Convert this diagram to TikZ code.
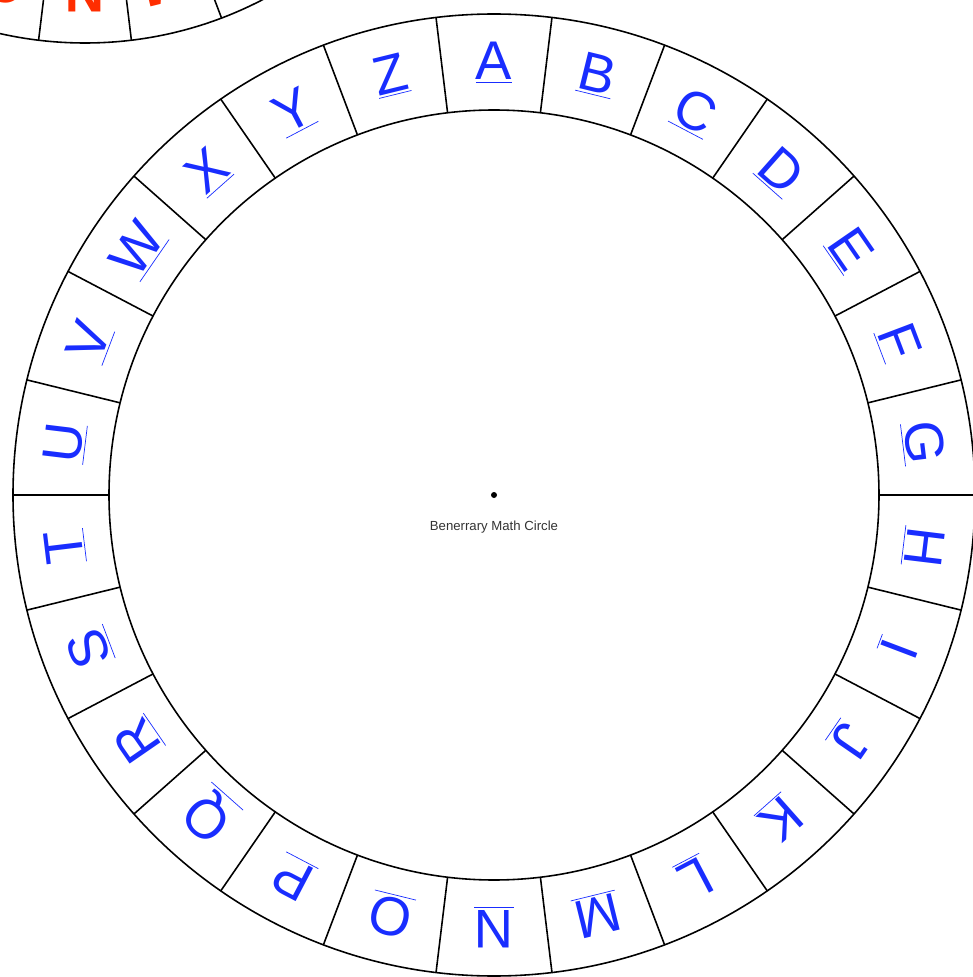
\documentclass[tikz,border=0pt]{standalone}
\usepackage{fontspec}
\setsansfont{Liberation Sans}
\usepackage{tikz}
\usetikzlibrary{calc}
\usepackage{xcolor}
\definecolor{letrazul}{RGB}{25,45,255}
\definecolor{letraverm}{RGB}{255,45,0}
\tikzset{
    anel/.style={draw=black, line width=0.9pt},
    letra/.style={font=\sffamily\fontsize{31}{31}\selectfont, text=letrazul, anchor=base, inner sep=0pt},
    letraverm/.style={letra, font=\sffamily\bfseries\fontsize{31}{31}\selectfont, text=letraverm},
    rotulo/.style={font=\sffamily\fontsize{7.5}{8}\selectfont, text=black!80}
}

\begin{document}
\begin{tikzpicture}[x=0.02cm, y=0.02cm]
    \useasboundingbox (-494,-482) rectangle (479,495);
    \clip (-494,-482) rectangle (479,495);
    % Disco de cima (vermelho, cortado)
    \begin{scope}[shift={(-409,837)}]
        \draw[anel] (0,0) circle (385);
        \draw[anel] (0,0) circle (289);
        \foreach \l [count=\k from 0] in {A,...,Z} {
            \draw[anel] ({90+180/26-\k*360/26}:289) -- ({90+180/26-\k*360/26}:385);
            \node[letraverm, rotate={-\k*360/26}] (V\l) at ({90-\k*360/26}:317) {\underline{\l}};
        }
    \end{scope}
    % Disco principal
    \draw[anel] (0,0) circle (481);
    \draw[anel] (0,0) circle (385);
    \foreach \l [count=\k from 0] in {A,...,Z} {
        \draw[anel] ({90+180/26-\k*360/26}:385) -- ({90+180/26-\k*360/26}:481);
        \node[letra, rotate={-\k*360/26}] (L\l) at ({90-\k*360/26}:415) {\underline{\l}};
    }
    % Centro
    \fill (0,0) circle (3);
    \node[rotulo] (titulo) at (0,-32) {Benerrary Math Circle};
\end{tikzpicture}
\end{document}
